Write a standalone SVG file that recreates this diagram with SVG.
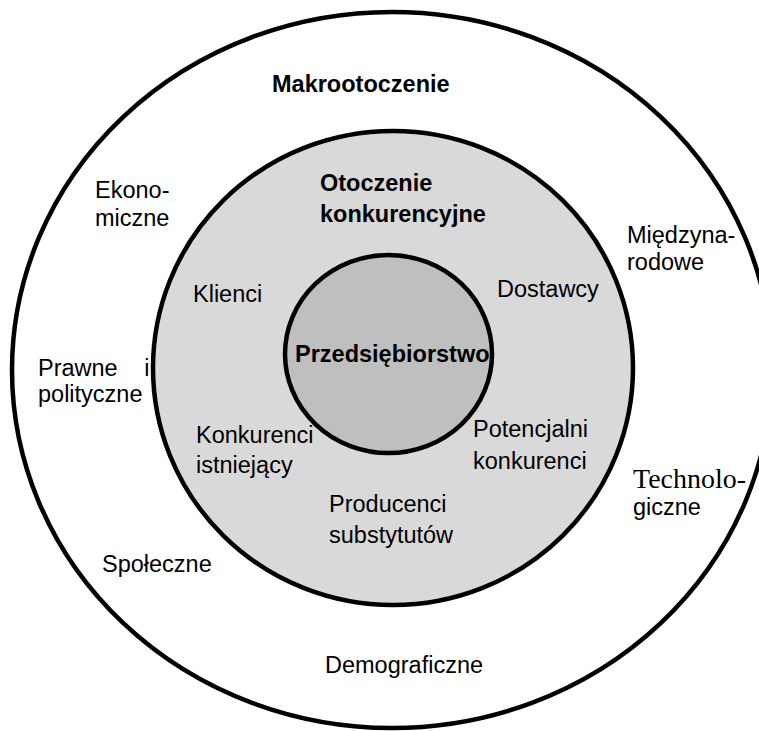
<svg xmlns="http://www.w3.org/2000/svg" width="759" height="731" viewBox="0 0 759 731">
  <style>
    .ring { stroke: #000; stroke-width: 4.5; }
    .lbl { font-family: "Liberation Sans", Arial, sans-serif; font-size: 23.5px; fill: #000; }
    .bold { font-weight: bold; }
    .serif { font-family: "Liberation Serif", "Times New Roman", serif; }
  </style>
  <rect width="759" height="731" fill="#ffffff"/>

  <!-- Macro environment (outer ring) -->
  <g id="makrootoczenie">
    <ellipse class="ring" cx="392" cy="370" rx="380" ry="358" fill="#ffffff"/>
    <text class="lbl bold" x="272" y="92">Makrootoczenie</text>
    <text class="lbl" x="95" y="198">Ekono-</text>
    <text class="lbl" x="95" y="226">miczne</text>
    <text class="lbl" x="38" y="376" word-spacing="20">Prawne i</text>
    <text class="lbl" x="38" y="402">polityczne</text>
    <text class="lbl" x="102" y="572">Społeczne</text>
    <text class="lbl" x="325" y="673">Demograficzne</text>
    <text class="lbl" x="627" y="243">Międzyna-</text>
    <text class="lbl" x="627" y="270">rodowe</text>
    <text class="lbl serif" x="633" y="488" style="font-size:27px" textLength="113" lengthAdjust="spacingAndGlyphs">Technolo-</text>
    <text class="lbl" x="633" y="515">giczne</text>
  </g>

  <!-- Competitive environment (middle ring) -->
  <g id="otoczenie-konkurencyjne">
    <ellipse class="ring" cx="393" cy="368" rx="240" ry="237" fill="#d9d9d9" stroke-width="4"/>
    <text class="lbl bold" x="320" y="191">Otoczenie</text>
    <text class="lbl bold" x="320" y="222">konkurencyjne</text>
    <text class="lbl" x="193" y="302">Klienci</text>
    <text class="lbl" x="497" y="297">Dostawcy</text>
    <text class="lbl" x="196" y="443">Konkurenci</text>
    <text class="lbl" x="196" y="473">istniejący</text>
    <text class="lbl" x="473" y="437">Potencjalni</text>
    <text class="lbl" x="473" y="469">konkurenci</text>
    <text class="lbl" x="329" y="512">Producenci</text>
    <text class="lbl" x="329" y="543">substytutów</text>
  </g>

  <!-- Enterprise (core) -->
  <g id="przedsiebiorstwo">
    <ellipse class="ring" cx="388.5" cy="354" rx="103.5" ry="99" fill="#bfbfbf" stroke-width="5"/>
    <text class="lbl bold" x="295" y="362">Przedsiębiorstwo</text>
  </g>
</svg>
